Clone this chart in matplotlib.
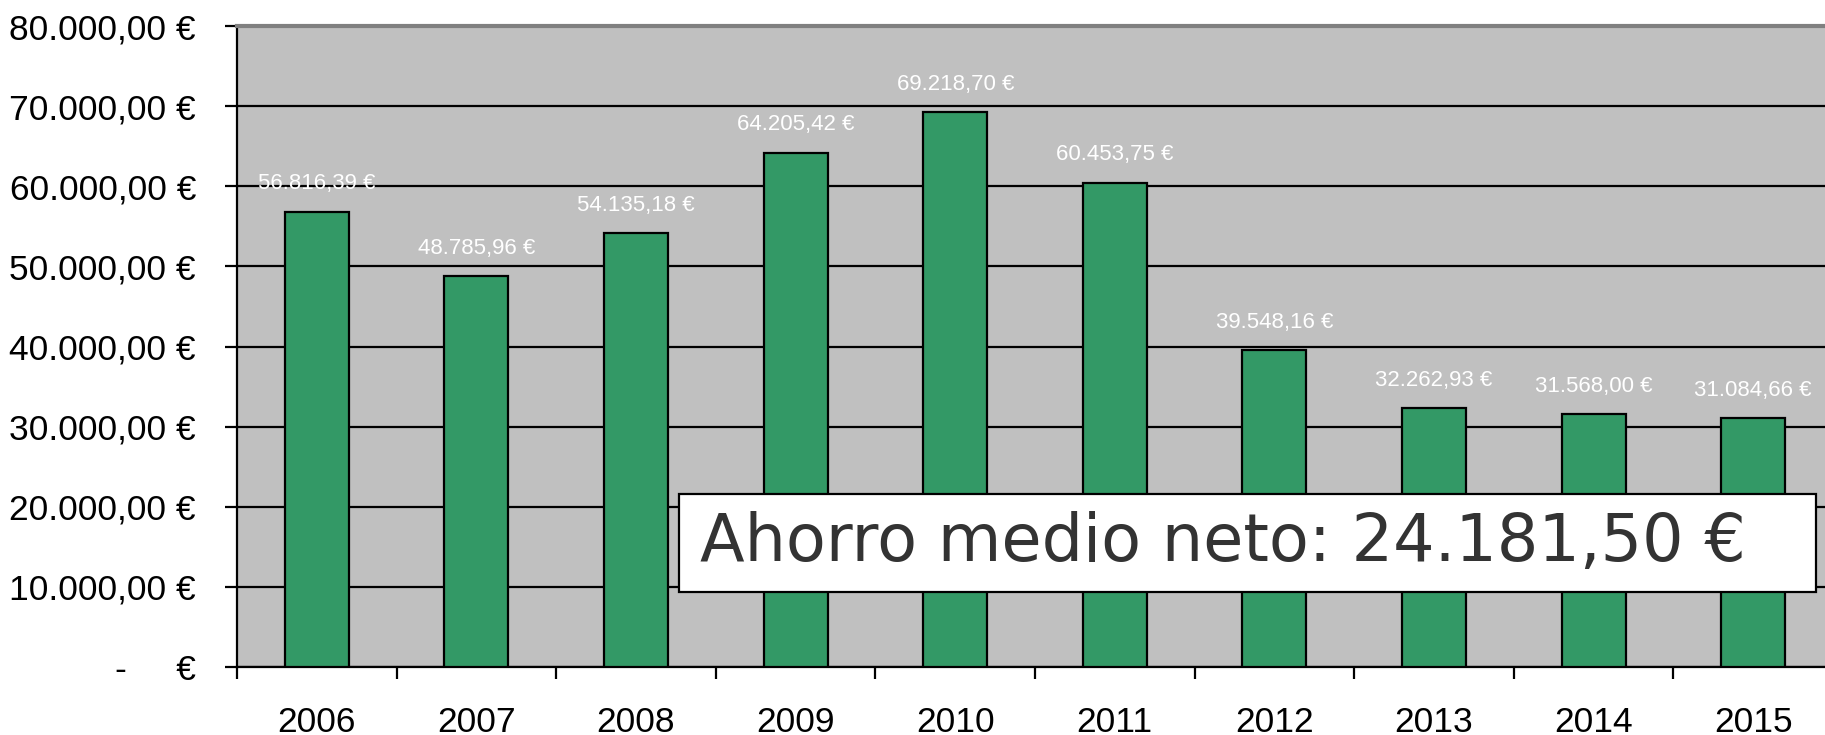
import matplotlib.pyplot as plt
from matplotlib.patches import Rectangle
from matplotlib.ticker import FuncFormatter, MultipleLocator
import numpy as np

years = ["2006", "2007", "2008", "2009", "2010", "2011", "2012", "2013", "2014", "2015"]
ahorro = [56816.39, 48785.96, 54135.18, 64205.42, 69218.70, 60453.75, 39548.16, 32262.93, 31568.00, 31084.66]
ahorro_medio = 24181.50


def euro(v):
    s = f"{v:,.2f}".replace(",", "X").replace(".", ",").replace("X", ".")
    return s + " €"


def tick_fmt(v, pos):
    if abs(v) < 1e-6:
        return "-     €"
    return euro(v)


plt.rcParams['font.family'] = ['Liberation Sans', 'DejaVu Sans']

fig = plt.figure(figsize=(18.25, 7.35), dpi=100)
ax = fig.add_axes([237 / 1825, 68 / 735, 1596 / 1825, 641 / 735])
ax.set_facecolor("#c0c0c0")

x = np.arange(len(years))
ax.bar(x, ahorro, width=0.4, color="#339966", edgecolor="black", linewidth=1.6, zorder=3)

for xi, v in zip(x, ahorro):
    ax.annotate(euro(v), (xi, v), xytext=(0, 20), textcoords="offset points",
                ha="center", va="center", color="white", fontsize=16)

ax.set_xlim(-0.5, len(years) - 0.5)
ax.set_ylim(0, 80000)
ax.yaxis.set_major_locator(MultipleLocator(10000))
ax.yaxis.set_major_formatter(FuncFormatter(tick_fmt))
ax.grid(axis="y", color="black", linewidth=1.6, zorder=1)
ax.set_axisbelow(True)

ax.set_xticks(x)
ax.set_xticklabels(years)
ax.set_xticks(np.arange(-0.5, len(years)), minor=True)
ax.tick_params(axis="x", which="major", length=0, pad=28, labelsize=25.5)
ax.tick_params(axis="x", which="minor", length=8.6, width=1.6, direction="out")
ax.tick_params(axis="y", length=8.6, width=1.6, direction="out", pad=21, labelsize=25.5)

ax.spines["top"].set_color("#808080")
ax.spines["top"].set_linewidth(3)
ax.spines["right"].set_visible(False)
ax.spines["left"].set_linewidth(1.6)
ax.spines["bottom"].set_linewidth(1.6)

# caja con el ahorro medio
fig.patches.append(Rectangle((679 / 1825, 143 / 735), 1137 / 1825, 98 / 735,
                             transform=fig.transFigure, facecolor="white",
                             edgecolor="black", linewidth=1.6, zorder=5))
fig.text(700 / 1825, 192 / 735, "Ahorro medio neto: " + euro(ahorro_medio),
         family="DejaVu Sans", fontsize=47, color="#333333", va="center", ha="left", zorder=6)

plt.savefig("out.png", dpi=100)
